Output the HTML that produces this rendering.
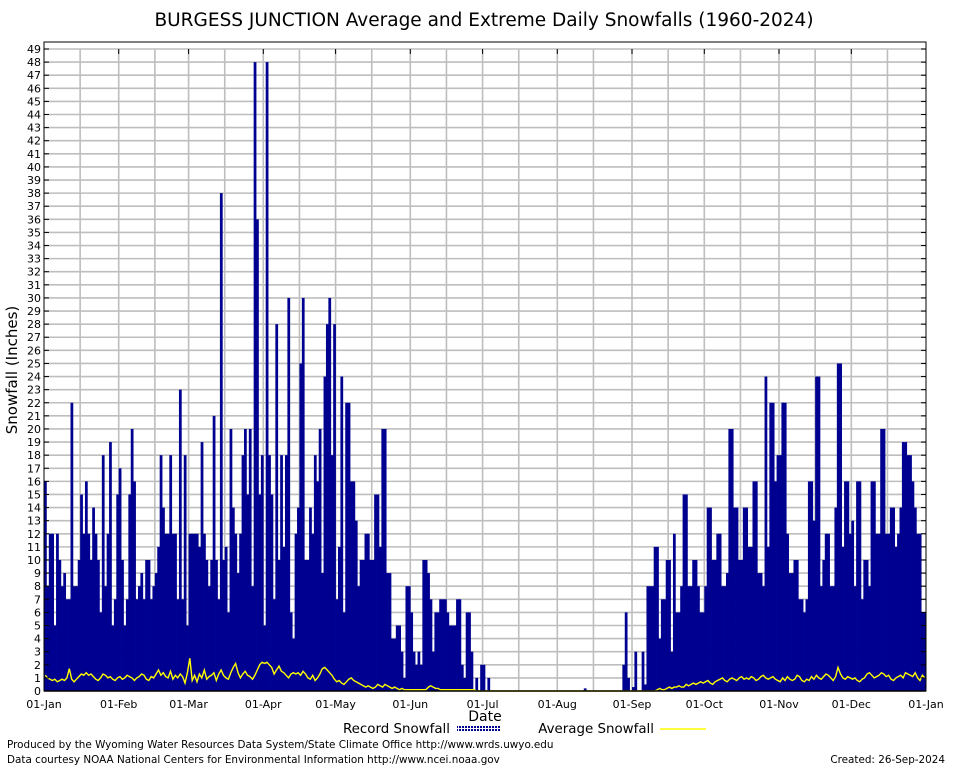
<!DOCTYPE html>
<html><head><meta charset="utf-8"><style>
body{margin:0;background:#fff;}
svg text{font-family:"DejaVu Sans","Liberation Sans",sans-serif;fill:#000;}
</style></head><body>
<svg id="chart" width="954" height="768" viewBox="0 0 954 768" xmlns="http://www.w3.org/2000/svg">
<defs>
<pattern id="hatch" width="3" height="3" patternUnits="userSpaceOnUse"><rect width="3" height="3" fill="#fff"/><rect width="2" height="2" fill="#000090"/></pattern>
</defs>
<text x="484" y="26" font-size="18.5" text-anchor="middle">BURGESS JUNCTION Average and Extreme Daily Snowfalls (1960-2024)</text>
<g id="grid"></g>
<g id="bars"></g>
<g id="avg"></g>
<g id="axes"></g>
<text transform="translate(17,370) rotate(-90)" font-size="15" text-anchor="middle">Snowfall (Inches)</text>
<text x="485" y="721" font-size="14" text-anchor="middle">Date</text>
<g>
<text x="450" y="733" font-size="13.4" text-anchor="end">Record Snowfall</text>
<rect x="457" y="725" width="44" height="6" fill="url(#hatch)"/>
<text x="654" y="733" font-size="13.4" text-anchor="end">Average Snowfall</text>
<line x1="660" y1="729" x2="706" y2="729" stroke="#ffff00" stroke-width="1.5"/>
</g>
<text x="7" y="748" font-size="10.4">Produced by the Wyoming Water Resources Data System/State Climate Office http://www.wrds.uwyo.edu</text>
<text x="7" y="763" font-size="10.4">Data courtesy NOAA National Centers for Environmental Information http://www.ncei.noaa.gov</text>
<text x="945" y="763" font-size="10.4" text-anchor="end">Created:  26-Sep-2024</text>
</svg>
<script>
const monthLabels=["01-Jan","01-Feb","01-Mar","01-Apr","01-May","01-Jun","01-Jul","01-Aug","01-Sep","01-Oct","01-Nov","01-Dec","01-Jan"];
const monthStartDays=[0,31,60,91,121,152,182,213,244,274,305,335,366];
const yTicks=[0,1,2,3,4,5,6,7,8,9,10,11,12,13,14,15,16,17,18,19,20,21,22,23,24,25,26,27,28,29,30,31,32,33,34,35,36,37,38,39,40,41,42,43,44,45,46,47,48,49];
const recordJanFebStart=0;
const recordJanFeb=[16,8,12,12,5,12,10,8,9,7,7,22,8,8,10,15,12,16,12,10,14,12,10,6,18,8,12,19,5,7,15,17,10,5,7,15,20,16,7,8,9,7,10,10,7,8,9,11,18,14,12,12,18,12,12,7,23,7,18,5];
const recordMarAprStart=60;
const recordMarApr=[12,12,12,12,11,19,12,10,8,10,21,10,7,38,10,11,6,20,14,12,9,12,18,20,15,20,8,48,36,15,18,5,48,18,15,7,28,10,18,11,18,30,6,4,12,14,25,30,10,10,14,12,18,16,20,9,24,28,30,18,28,7,11];
const recordMayJulStart=123;
const recordMayJul=[24,6,22,22,16,16,13,8,10,10,12,12,10,10,15,15,11,20,20,9,9,4,4,5,5,3,1,8,8,6,3,2,3,2,10,10,9,7,3,6,6,7,7,7,6,5,5,5,7,7,2,1,6,6,3,0,1,0,2,2,0,1];
const recordAugStart=224;
const recordAug=[0.2];
const recordFallStart=240;
const recordFall=[2,6,1,0,0.3,3,0,0,3,0.5,8,8,8,11,11,4,7,7,10,10,3,12,6,6,8,15,15,8,8,10,10,8,6,6,8,14,14,10,10,12,12,8,8,9,20,20,14,14,10,10,14,14,11,11,16,16,9,9,8,24,11,22,22,16,18,18,22,22,12,9,9,10,10,7,7,6,7,16,16,13,24,24,8,10,12,12,8,8,14,25,25,11,16,16,12,13,8,16,16,7,10,10,8,16,16,12,12,20,20,12,12,14,14,11,12,14,19,19,18,18,16,14,12,12,6,6];
const avgJan=[1.2,1.0,0.9,0.8,0.9,0.7,0.8,0.9,0.8,1.0,1.7,0.9,0.7,0.9,1.1,1.3,1.2,1.4,1.2,1.3,1.1,0.9,0.8,1.0,1.3,1.2,1.0,1.1,0.9,0.8,1.0];
const avgFeb=[1.1,0.9,1.0,1.2,1.1,1.0,0.8,1.0,1.1,1.3,1.2,0.9,0.8,1.1,1.0,1.3,1.6,1.2,1.4,1.1,1.0,1.5,0.9,1.2,1.0,1.3,1.1,0.6,1.4];
const avgMar=[2.5,0.8,1.2,0.7,1.3,1.0,1.6,0.9,1.1,1.2,1.4,0.8,1.3,1.6,1.2,1.0,0.9,1.4,1.8,2.1,1.4,1.0,1.3,1.5,1.2,1.1,0.9,1.2,1.6,2.0,2.2];
const avgApr=[2.1,2.2,2.0,1.8,1.3,1.6,1.9,1.5,1.4,1.2,1.0,1.3,1.4,1.3,1.4,1.2,1.5,1.3,1.0,0.9,1.2,0.8,1.0,1.3,1.7,1.8,1.6,1.4,1.2,0.9];
const avgMay=[0.7,0.8,0.6,0.5,0.7,0.9,1.0,0.8,0.7,0.6,0.5,0.4,0.3,0.4,0.3,0.2,0.3,0.5,0.4,0.3,0.5,0.4,0.3,0.2,0.3,0.2,0.1,0.2,0.1,0.1,0.1];
const avgJun=[0.1,0.1,0.1,0.1,0.1,0.1,0.1,0.3,0.4,0.3,0.2,0.2,0.1,0.1,0.1,0.1,0.1,0.1,0.1,0.1,0.1,0.1,0.1,0.1,0.1,0.1,0.1,0,0,0];
const avgJul=[0,0,0,0,0,0,0,0,0,0,0,0,0,0,0,0,0,0,0,0,0,0,0,0,0,0,0,0,0,0,0];
const avgAug=[0,0,0,0,0,0,0,0,0,0,0,0,0,0,0,0,0,0,0,0,0,0,0,0,0,0,0,0,0,0,0];
const avgSep=[0,0,0,0,0,0,0,0,0,0,0.1,0.2,0.1,0.1,0.2,0.3,0.2,0.3,0.3,0.4,0.3,0.3,0.5,0.4,0.5,0.6,0.5,0.6,0.7,0.6];
const avgOct=[0.7,0.8,0.6,0.5,0.7,0.8,0.9,1.0,0.8,0.7,0.9,1.0,0.9,0.8,1.0,1.1,0.9,1.0,0.9,1.1,1.0,0.8,0.9,1.1,1.2,1.0,0.9,1.0,1.1,0.9,0.8];
const avgNov=[0.7,1.0,0.8,1.1,0.9,0.8,0.9,1.2,1.1,0.8,0.7,0.9,0.8,1.1,0.9,1.2,1.0,0.9,1.1,1.3,1.2,1.0,0.8,1.1,1.8,1.3,1.0,0.9,1.1,1.0];
const avgDec=[0.9,1.0,0.8,0.7,0.9,1.0,1.3,1.4,1.2,1.0,1.1,1.2,1.4,1.3,1.1,1.2,0.9,0.8,1.0,1.1,1.2,1.0,1.4,1.3,1.2,1.1,1.4,1.0,0.8,1.2,1.0];

const NS="http://www.w3.org/2000/svg";
const L=44,R=926,T=49,B=691,NDAYS=366,YMAX=49;
const dw=(R-L)/NDAYS;
function xd(d){return L+d*dw;}
function yv(v){return B-(v/YMAX)*(B-T);}
function mk(tag,attrs,parent){const e=document.createElementNS(NS,tag);for(const k in attrs)e.setAttribute(k,attrs[k]);parent.appendChild(e);return e;}
const grid=document.getElementById('grid'),bars=document.getElementById('bars'),avgG=document.getElementById('avg'),axes=document.getElementById('axes');
yTicks.forEach(v=>{
  if(v>0){const g=mk('line',{x1:L,x2:R,y1:yv(v),y2:yv(v),stroke:'#bebebe','stroke-width':1.6},grid);
  
  }
  const t=mk('text',{x:L-3,y:yv(v)+4,'font-size':11,'text-anchor':'end'},axes);t.textContent=v;
  
  
  const tk=mk('line',{x1:L,x2:L+5,y1:yv(v),y2:yv(v),stroke:'#000'},axes);
  
  
  const tk2=mk('line',{x1:R-5,x2:R,y1:yv(v),y2:yv(v),stroke:'#000'},axes);
  
  
});
monthStartDays.forEach((d,i)=>{
  [d,d+15].forEach((dd,j)=>{
    if(dd>=NDAYS||dd<=0)return;
    const g=mk('line',{x1:xd(dd),x2:xd(dd),y1:T,y2:B,stroke:'#bebebe','stroke-width':1.6},grid);
    
    
  });
  const t=mk('text',{x:xd(d),y:708,'font-size':11,'text-anchor':'middle'},axes);t.textContent=monthLabels[i];
  
  
  const tk=mk('line',{x1:xd(d),x2:xd(d),y1:T,y2:T+5,stroke:'#000'},axes);
  
  
});
function drawRecord(arr,start){
  arr.forEach((v,i)=>{
    if(!(v>0))return;
    const d=start+i;if(d>=NDAYS)return;
    const r=mk('rect',{x:xd(d),y:yv(v),width:dw+0.35,height:B-yv(v),fill:'#000090'},bars);
    
    
  });
}
drawRecord(recordJanFeb,recordJanFebStart);
drawRecord(recordMarApr,recordMarAprStart);
drawRecord(recordMayJul,recordMayJulStart);
drawRecord(recordAug,recordAugStart);
drawRecord(recordFall,recordFallStart);
const avgAll=[].concat(avgJan,avgFeb,avgMar,avgApr,avgMay,avgJun,avgJul,avgAug,avgSep,avgOct,avgNov,avgDec);
const pts=avgAll.slice(0,NDAYS).map((v,i)=>xd(i+0.5).toFixed(1)+','+yv(v).toFixed(1)).join(' ');
const pl=mk('polyline',{points:pts,fill:'none',stroke:'#ffff00','stroke-width':1.4},avgG);


const fr=mk('rect',{x:L,y:T-7,width:R-L,height:B-T+7,fill:'none',stroke:'#000','stroke-width':1},axes);


const base=mk('line',{x1:L,x2:R,y1:B,y2:B,stroke:'#000','stroke-width':1.5},axes);


</script>
</body></html>
